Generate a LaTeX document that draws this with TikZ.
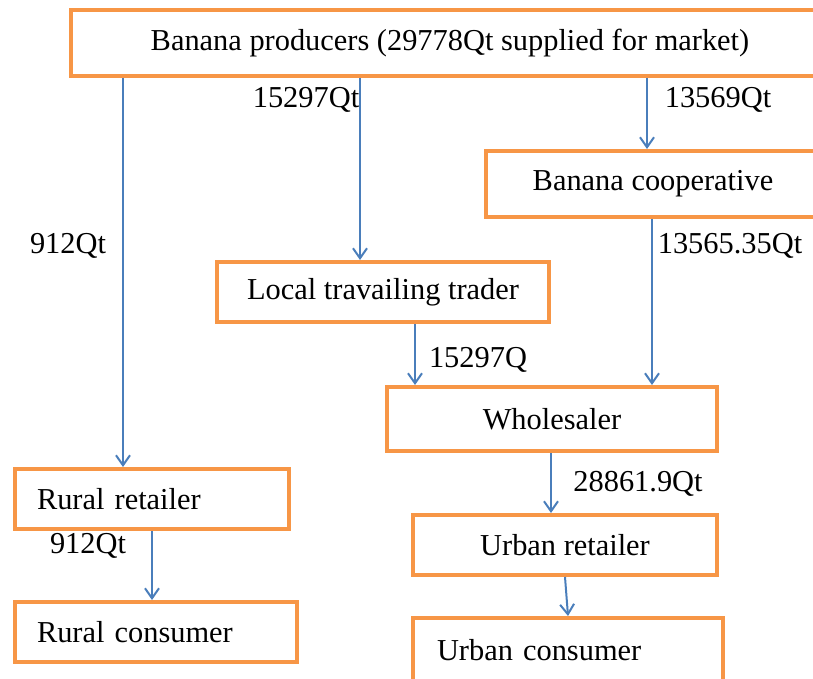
\documentclass[tikz,border=0pt]{standalone}
\usepackage{fontspec}
\setmainfont{Liberation Serif}
\usetikzlibrary{arrows.meta,positioning}
\definecolor{chorange}{HTML}{F79646}
\definecolor{chblue}{HTML}{4A7EBB}
\tikzstyle{chbox}=[draw=chorange,fill=white,line width=2pt,inner sep=0pt,
  font=\fontsize{15.2}{17}\selectfont]
\tikzstyle{chflow}=[draw=chblue,line width=1pt,-{Straight Barb[length=5pt,width=7pt]}]
\tikzstyle{chqty}=[font=\fontsize{15.2}{17}\selectfont,inner sep=0pt]

\begin{document}
\begin{tikzpicture}[x=0.5pt,y=-0.5pt]
    \useasboundingbox (0,0) rectangle (813,679);
    % boxes
    \node[chbox,minimum width=379pt,minimum height=33pt] (prod) at (450,43) {Banana producers (29778Qt supplied for market)};
    \node[chbox,minimum width=167pt,minimum height=33pt] (coop) at (653,184) {Banana cooperative};
    \node[chbox,minimum width=166pt,minimum height=30pt] (trader) at (383,292) {Local travailing trader};
    \node[chbox,minimum width=165pt,minimum height=32pt] (whole) at (552,419) {Wholesaler};
    \node[chbox,minimum height=30pt,text width=115pt,inner xsep=11pt,align=left] (rret) at (152,499) {Rural retailer};
    \node[chbox,minimum height=30pt,text width=119pt,inner xsep=11pt,align=left] (rcon) at (156,632) {Rural consumer};
    \node[chbox,minimum width=152pt,minimum height=30pt] (uret) at (565,545) {Urban retailer};
    \node[chbox,minimum height=32pt,text width=131pt,inner xsep=12pt,align=left] (ucon) at (568,650) {Urban consumer};
    % flows
    \draw[chflow] (prod.south -| 123,0) -- (rret.north -| 123,0);
    \draw[chflow] (prod.south -| 360,0) -- (trader.north -| 360,0);
    \draw[chflow] (prod.south -| 647,0) -- (coop.north -| 647,0);
    \draw[chflow] (coop.south -| 652,0) -- (whole.north -| 652,0);
    \draw[chflow] (trader.south -| 415,0) -- (whole.north -| 415,0);
    \draw[chflow] (whole.south -| 551,0) -- (uret.north -| 551,0);
    \draw[chflow] (rret.south) -- (rcon.north -| rret.south);
    \draw[chflow] (uret.south) -- (ucon.north);
    % quantities
    \node[chqty] (q1) at (68,246) {912Qt};
    \node[chqty] (q2) at (306,100) {15297Qt};
    \node[chqty] (q3) at (718,100) {13569Qt};
    \node[chqty] (q4) at (730,246) {13565.35Qt};
    \node[chqty] (q5) at (478,360) {15297Q};
    \node[chqty] (q6) at (638,484) {28861.9Qt};
    \node[chqty] (q7) at (88,546) {912Qt};
\end{tikzpicture}
\end{document}
